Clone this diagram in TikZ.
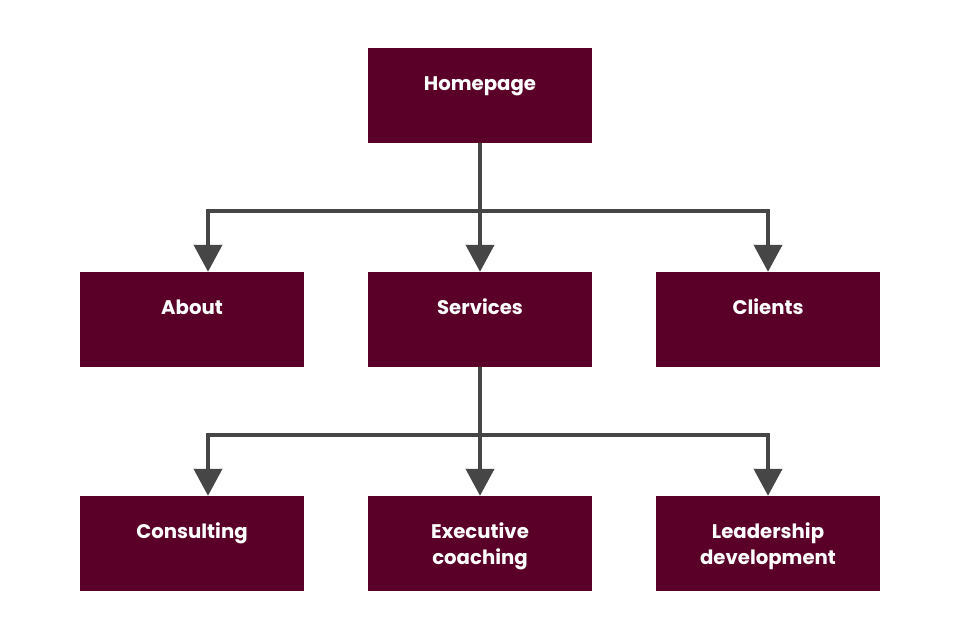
\documentclass[tikz,border=0pt]{standalone}
\usepackage{fontspec}
\setmainfont{Poppins}
\usetikzlibrary{arrows.meta}
\definecolor{maroon}{HTML}{5A0028}
\definecolor{linkgray}{HTML}{464646}
\tikzset{
  page/.style={fill=maroon, text=white, inner sep=0pt, minimum width=5.6cm,
    text width=5.4cm, align=center, text height=29.9pt, text depth=37.7pt,
    font=\fontsize{14}{18.5}\selectfont\bfseries},
  link/.style={draw=linkgray, line width=0.1cm},
  arrowlink/.style={link, -{Triangle[width=0.7cm,length=0.675cm]}}
}
\begin{document}
\begin{tikzpicture}
  \useasboundingbox (0,0) rectangle (24,-16);

  % top level
  \node[page] (home) at (12,-2.39) {Homepage};

  % second level
  \node[page] (about) at (4.8,-7.99) {About};
  \node[page] (services) at (12,-7.99) {Services};
  \node[page] (clients) at (19.2,-7.99) {Clients};

  % third level
  \node[page] (consulting) at (4.8,-13.59) {Consulting};
  \node[page] (coaching) at (12,-13.59) {Executive\\coaching};
  \node[page] (leadership) at (19.2,-13.59) {Leadership\\development};

  \coordinate (hubtop) at (12,-5.275);
  \coordinate (hubservices) at (12,-10.875);

  \draw[link] (home.south) -- (hubtop);
  \draw[arrowlink] (hubtop) -| ([xshift=0.4cm]about.north);
  \draw[arrowlink] (hubtop) -- (services.north);
  \draw[arrowlink] (hubtop) -| (clients.north);

  \draw[link] (services.south) -- (hubservices);
  \draw[arrowlink] (hubservices) -| ([xshift=0.4cm]consulting.north);
  \draw[arrowlink] (hubservices) -- (coaching.north);
  \draw[arrowlink] (hubservices) -| (leadership.north);
\end{tikzpicture}
\end{document}
